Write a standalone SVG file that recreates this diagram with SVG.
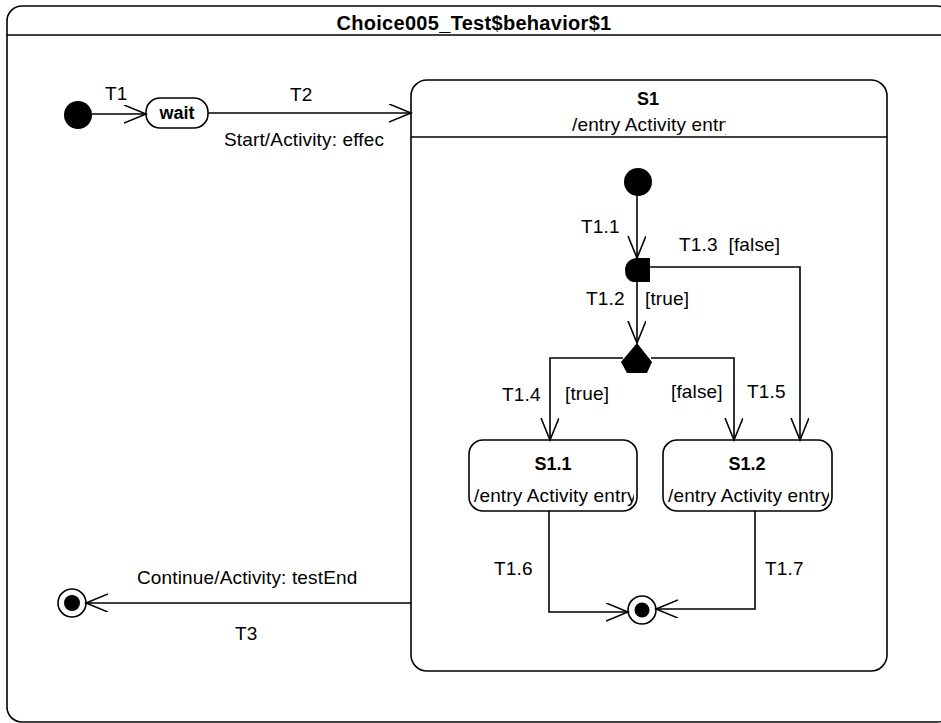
<svg xmlns="http://www.w3.org/2000/svg" width="941" height="723" viewBox="0 0 941 723">
<style>
text{font-family:"Liberation Sans",Arial,sans-serif;font-size:19px;letter-spacing:0.15px;fill:#000;white-space:pre}
.b{font-weight:bold;font-size:18px;letter-spacing:0}
.t{font-weight:bold;font-size:20px;letter-spacing:0.3px}
.box{fill:#fff;stroke:#000;stroke-width:1.6}
.ln{fill:none;stroke:#000;stroke-width:1.6}
.fill{fill:#000;stroke:none}
</style>
<defs>
<marker id="ah" markerWidth="24" markerHeight="20" refX="22" refY="9" orient="auto" markerUnits="userSpaceOnUse">
<path d="M0,0 L22,9 L0,18" fill="none" stroke="#000" stroke-width="1.6"/>
</marker>
<clipPath id="c1"><rect x="200" y="125" width="184" height="30"/></clipPath>
<clipPath id="c2"><rect x="420" y="105" width="306" height="31"/></clipPath>
<clipPath id="c3"><rect x="470" y="480" width="164" height="30"/></clipPath>
<clipPath id="c4"><rect x="664" y="480" width="165" height="30"/></clipPath>
</defs>
<g id="frame">
<rect class="box" x="7" y="6" width="945" height="716" rx="15"/>
<line class="ln" x1="7" y1="35" x2="941" y2="35"/>
<text class="t" x="474" y="30" text-anchor="middle">Choice005_Test$behavior$1</text>
</g>
<g id="S1">
<rect class="box" x="411" y="80" width="476" height="591" rx="16"/>
<line class="ln" x1="411" y1="137" x2="887" y2="137"/>
<text class="b" x="648" y="105" text-anchor="middle">S1</text>
<text x="572" y="131" clip-path="url(#c2)">/entry Activity entry</text>
</g>
<g id="init1"><circle class="fill" cx="78" cy="115" r="14"/></g>
<g id="wait">
<rect class="box" x="146" y="98" width="62" height="30" rx="14"/>
<text class="b" x="177" y="119" text-anchor="middle">wait</text>
</g>
<g id="final1">
<circle cx="72" cy="603" r="14" fill="#fff" stroke="#000" stroke-width="1.6"/>
<circle class="fill" cx="72" cy="603" r="8"/>
</g>
<g id="init2"><circle class="fill" cx="638" cy="182" r="14"/></g>
<g id="choice"><path class="fill" d="M637,258 H650 V282 H633 Q625,280 625,270 A12,12 0 0 1 637,258 Z"/></g>
<g id="junction"><polygon class="fill" points="637,343 652,362 647,373 627,373 621,362"/></g>
<g id="S1_1">
<rect class="box" x="469" y="440" width="168" height="71" rx="14"/>
<text class="b" x="553" y="470" text-anchor="middle">S1.1</text>
<text x="474" y="502" clip-path="url(#c3)">/entry Activity entry</text>
</g>
<g id="S1_2">
<rect class="box" x="663" y="440" width="169" height="71" rx="14"/>
<text class="b" x="747" y="470" text-anchor="middle">S1.2</text>
<text x="668" y="502" clip-path="url(#c4)">/entry Activity entry</text>
</g>
<g id="final2">
<circle cx="642" cy="610" r="14" fill="#fff" stroke="#000" stroke-width="1.6"/>
<circle class="fill" cx="642" cy="610" r="7.5"/>
</g>
<g id="connectors">
<path class="ln" d="M92,114 L146,114" marker-end="url(#ah)"/>
<text x="105" y="100">T1</text>
<path class="ln" d="M208,113 L411,113" marker-end="url(#ah)"/>
<text x="290" y="101">T2</text>
<text x="224" y="146" clip-path="url(#c1)">Start/Activity: effect</text>
<path class="ln" d="M411,603 L86,603" marker-end="url(#ah)"/>
<text x="137" y="584">Continue/Activity: testEnd</text>
<text x="235" y="640">T3</text>
<path class="ln" d="M637,196 L637,258" marker-end="url(#ah)"/>
<text x="581" y="233">T1.1</text>
<path class="ln" d="M650,267 L800,267 L800,440" marker-end="url(#ah)"/>
<text x="679" y="251">T1.3  [false]</text>
<path class="ln" d="M637,282 L637,343" marker-end="url(#ah)"/>
<text x="586" y="305">T1.2</text>
<text x="645" y="305">[true]</text>
<path class="ln" d="M623,358 L550,358 L550,440" marker-end="url(#ah)"/>
<text x="502" y="401">T1.4</text>
<text x="565" y="400">[true]</text>
<path class="ln" d="M651,358 L734,358 L734,440" marker-end="url(#ah)"/>
<text x="671" y="398">[false]</text>
<text x="747" y="398">T1.5</text>
<path class="ln" d="M549,511 L549,612 L628,612" marker-end="url(#ah)"/>
<text x="494" y="575">T1.6</text>
<path class="ln" d="M755,511 L755,609 L656,609" marker-end="url(#ah)"/>
<text x="765" y="575">T1.7</text>
</g>
</svg>
